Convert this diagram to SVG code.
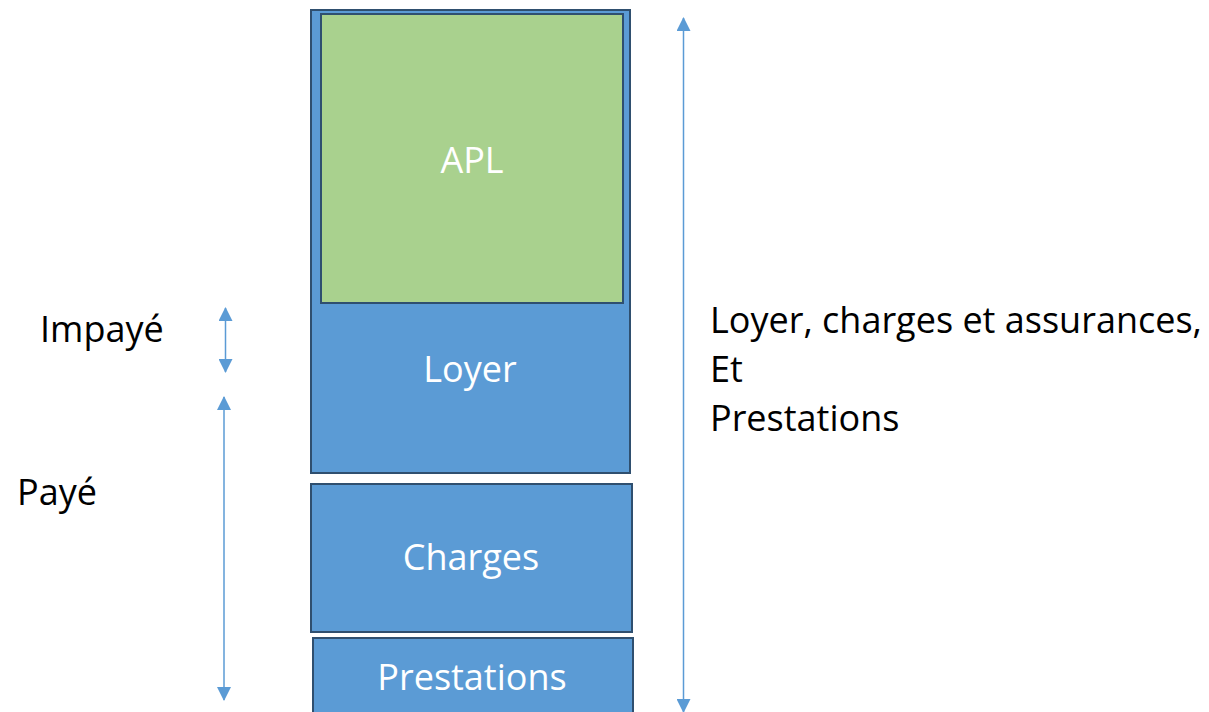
<svg xmlns="http://www.w3.org/2000/svg" width="1209" height="712" viewBox="0 0 1209 712">
<style>
.box{fill:#5b9bd5;stroke:#2f4f6f;stroke-width:2}
.apl{fill:#a9d18e;stroke:#2f4f6f;stroke-width:2}
.in{font-family:"Open Sans","Noto Sans",sans-serif;font-size:36px;fill:#fff;text-anchor:middle}
.lbl{font-family:"Open Sans","Noto Sans",sans-serif;font-size:36px;fill:#000}
.arr{stroke:#5b9bd5;stroke-width:1.5;fill:none;marker-start:url(#ah);marker-end:url(#ah)}
</style>
<defs>
<marker id="ah" viewBox="0 0 14 14" refX="13" refY="7" markerWidth="14" markerHeight="14" markerUnits="userSpaceOnUse" orient="auto-start-reverse">
<path d="M0,0 L14,7 L0,14 Z" fill="#5b9bd5"/>
</marker>
</defs>
<g id="loyer">
<rect class="box" x="311" y="10" width="319" height="463"/>
<text class="in" x="470" y="382">Loyer</text>
</g>
<g id="apl">
<rect class="apl" x="321" y="14" width="302" height="289"/>
<text class="in" x="472" y="173">APL</text>
</g>
<g id="charges">
<rect class="box" x="311" y="484" width="321" height="148"/>
<text class="in" x="471" y="570">Charges</text>
</g>
<g id="prestations">
<rect class="box" x="313" y="638" width="320" height="80"/>
<text class="in" x="472" y="690">Prestations</text>
</g>
<g id="labels">
<text class="lbl" x="40" y="342">Impayé</text>
<text class="lbl" x="17" y="505">Payé</text>
<text class="lbl" x="710" y="333">Loyer, charges et assurances,</text>
<text class="lbl" x="710" y="382">Et</text>
<text class="lbl" x="710" y="431">Prestations</text>
</g>
<g id="connectors">
<line class="arr" x1="225.5" y1="308" x2="225.5" y2="372"/>
<line class="arr" x1="224" y1="397" x2="224" y2="700"/>
<line class="arr" x1="683.5" y1="18" x2="683.5" y2="712"/>
</g>
</svg>
